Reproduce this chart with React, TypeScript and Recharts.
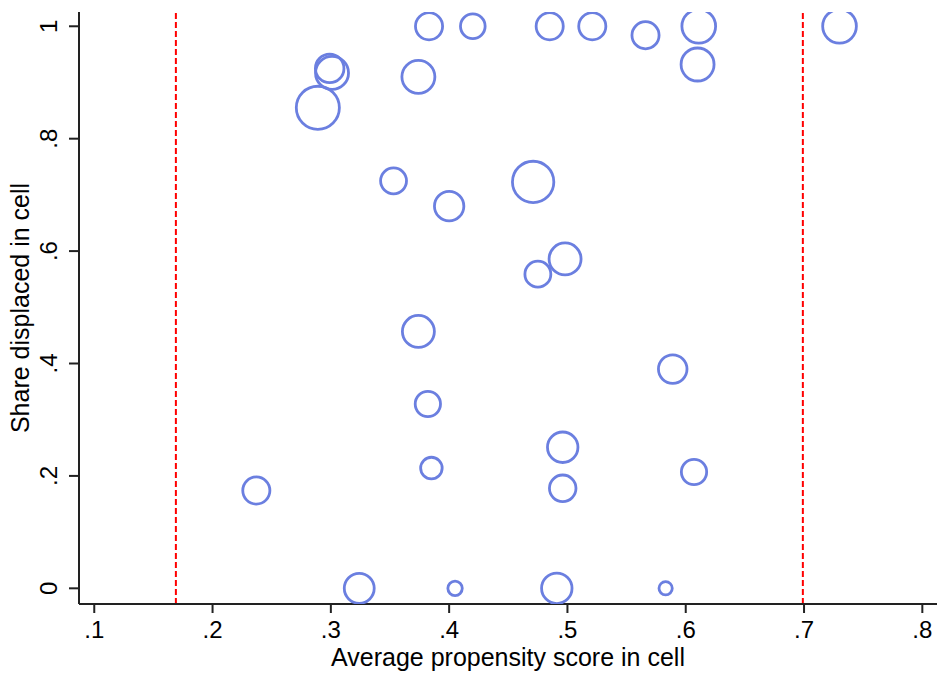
import React from 'react';
import { ScatterChart, Scatter, XAxis, YAxis, ZAxis, ReferenceLine, Label } from 'recharts';

// cell averages
const propensity = [
  0.383, 0.42, 0.485, 0.521, 0.566, 0.611, 0.61, 0.73, 0.299, 0.301,
  0.289, 0.374, 0.353, 0.4, 0.471, 0.475, 0.498, 0.374, 0.589, 0.382,
  0.385, 0.496, 0.607, 0.237, 0.496, 0.324, 0.405, 0.491, 0.583,
];
const shareDisplaced = [
  1, 1, 1, 1, 0.984, 1, 0.932, 1, 0.925, 0.917,
  0.855, 0.91, 0.725, 0.68, 0.723, 0.559, 0.586, 0.457, 0.39, 0.328,
  0.214, 0.251, 0.207, 0.174, 0.178, 0, 0, 0, 0,
];
// marker weight (area proportional to cell size)
const cellSize = [
  46, 38, 46, 46, 46, 71, 68, 71, 51, 68,
  116, 68, 42, 54, 107, 42, 64, 64, 51, 40,
  29, 58, 40, 46, 44, 56, 13, 58, 11,
];
const cutoffs = [0.169, 0.699];
const xTicks = [0.1, 0.2, 0.3, 0.4, 0.5, 0.6, 0.7, 0.8];
const yTicks = [0, 0.2, 0.4, 0.6, 0.8, 1];

const cells = propensity.map((p, i) => ({ p, share: shareDisplaced[i], n: cellSize[i] }));

const FONT = '"Liberation Sans", Arial, Helvetica, sans-serif';
const AXIS = '#222';
const MARKER = '#6b7fe0';

const fmt = (v: number) => (v === 0 ? '0' : v === 1 ? '1' : v.toFixed(1).replace(/^0/, ''));

const YTick = ({ x, y, payload }: any) => (
  <text
    x={x}
    y={y}
    transform={`rotate(-90 ${x} ${y})`}
    textAnchor="middle"
    fontSize={24}
    fontFamily={FONT}
    fill="#000"
  >
    {fmt(payload.value)}
  </text>
);

export default function App() {
  return (
    <div style={{ position: 'absolute', left: 0, top: 0, background: '#fff' }}>
      <ScatterChart width={938} height={675} margin={{ top: 12, right: 1, bottom: 0, left: 0 }}>
        <XAxis
          type="number"
          dataKey="p"
          domain={[0.0871, 0.8124]}
          allowDataOverflow
          ticks={xTicks}
          tickFormatter={fmt}
          height={71}
          tickSize={9}
          tickMargin={8}
          stroke={AXIS}
          strokeWidth={2}
          tick={{ fill: '#000', fontSize: 24, fontFamily: FONT }}
        >
          <Label
            content={({ viewBox }: any) => (
              <text
                x={viewBox.x + viewBox.width / 2}
                y={viewBox.y + 62}
                textAnchor="middle"
                fontSize={25}
                fontFamily={FONT}
                fill="#000"
              >
                Average propensity score in cell
              </text>
            )}
          />
        </XAxis>
        <YAxis
          type="number"
          dataKey="share"
          domain={[-0.0279, 1.0254]}
          allowDataOverflow
          ticks={yTicks}
          width={79}
          tickSize={10}
          tickMargin={12}
          stroke={AXIS}
          strokeWidth={2}
          tick={<YTick />}
        >
          <Label
            content={({ viewBox }: any) => {
              const cx = 29;
              const cy = viewBox.y + viewBox.height / 2;
              return (
                <text
                  x={cx}
                  y={cy}
                  transform={`rotate(-90 ${cx} ${cy})`}
                  textAnchor="middle"
                  fontSize={25}
                  fontFamily={FONT}
                  fill="#000"
                >
                  Share displaced in cell
                </text>
              );
            }}
          />
        </YAxis>
        <ZAxis type="number" dataKey="n" domain={[0, 120]} range={[0, 120 * 4 * Math.PI]} />
        {cutoffs.map((c) => (
          <ReferenceLine key={c} x={c} stroke="#ff0000" strokeWidth={2} strokeDasharray="6 3" />
        ))}
        <Scatter
          data={cells}
          fill="none"
          stroke={MARKER}
          strokeWidth={2.8}
          isAnimationActive={false}
        />
      </ScatterChart>
    </div>
  );
}
